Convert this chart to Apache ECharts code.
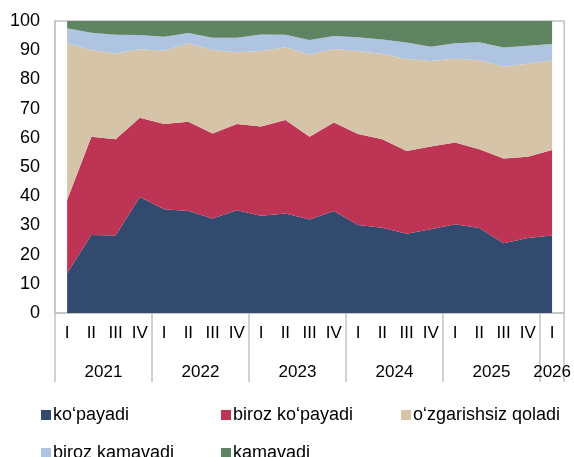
<!DOCTYPE html>
<html lang="uz">
<head>
	<meta charset="UTF-8">
	<title>Kutilmalar</title>
	<style>
		html, body { margin: 0; padding: 0; background: #fff; }
		#main { width: 574px; height: 457px; }
	</style>
</head>
<body>
	<div id="main"></div>
<script type="text/javascript" src="https://cdn.jsdelivr.net/npm/echarts@6/dist/echarts.min.js"></script>
<script type="text/javascript">
        // kvartallar va yillar
        var quarters = ['I','II','III','IV','I','II','III','IV','I','II','III','IV','I','II','III','IV','I','II','III','IV','I'];
        var years = ['2021','2022','2023','2024','2025','2026'];
        var yearCenters = [2, 6, 10, 14, 18, 20.5];
        var yearBounds = [0, 4, 8, 12, 16, 20, 21];

        // ulushlar, %
        var kopayadi = [13.6, 26.7, 26.5, 39.7, 35.5, 34.9, 32.4, 35.2, 33.3, 34.1, 32.0, 34.9, 30.1, 29.2, 27.1, 28.7, 30.4, 29.1, 23.9, 25.7, 26.5];
        var birozKopayadi = [25.1, 33.7, 33.0, 27.2, 29.2, 30.6, 29.1, 29.5, 30.6, 32.0, 28.4, 30.3, 31.2, 30.3, 28.4, 28.3, 28.0, 27.0, 29.0, 27.8, 29.3];
        var ozgarishsiz = [53.7, 29.7, 29.4, 23.4, 25.1, 26.9, 28.6, 24.6, 25.8, 24.9, 28.0, 25.2, 28.4, 29.2, 31.5, 29.3, 28.7, 30.5, 31.5, 31.9, 30.8];
        var birozKamayadi = [5.1, 5.9, 6.4, 4.9, 4.8, 3.5, 4.2, 5.0, 5.7, 4.3, 5.1, 4.5, 4.7, 5.0, 5.6, 4.9, 5.3, 6.1, 6.5, 6.1, 5.5];
        var kamayadi = [2.5, 4.0, 4.7, 4.8, 5.4, 4.1, 5.7, 5.7, 4.6, 4.7, 6.5, 5.1, 5.6, 6.3, 7.4, 8.8, 7.6, 7.3, 9.1, 8.5, 7.9];

        var names = ['ko‘payadi', 'biroz ko‘payadi', 'o‘zgarishsiz qoladi', 'biroz kamavadi', 'kamavadi'];
        var colors = ['#314A6E', '#BE3455', '#D5C4A8', '#AFC4E0', '#5F8462'];
        var values = [kopayadi, birozKopayadi, ozgarishsiz, birozKamayadi, kamayadi];

        var font = 'Liberation Sans, Arial, sans-serif';
        var gray = '#c4c4c4';

        var myChart = echarts.init(document.getElementById('main'));

        var series = [];
        for (var i = 0; i < names.length; i++) {
            series.push({
                name: names[i],
                type: 'line',
                stack: 'jami',
                symbol: 'none',
                lineStyle: { width: 0 },
                areaStyle: { color: colors[i], opacity: 1 },
                itemStyle: { color: colors[i] },
                data: values[i]
            });
        }

        // legenda joylari
        var legendPos = [[41, 406], [221, 406], [401, 406], [41, 444], [221, 444]];
        var legends = [];
        for (var j = 0; j < names.length; j++) {
            legends.push({
                left: legendPos[j][0],
                top: legendPos[j][1],
                padding: 0,
                data: [names[j]],
                icon: 'rect',
                itemWidth: 10,
                itemHeight: 10,
                textStyle: { fontFamily: font, fontSize: 18, color: '#000', padding: [0, 0, 0, -3] }
            });
        }

        var option = {
            animation: false,
            legend: legends,
            grid: {
                left: 55, right: 9, top: 21, bottom: 144,
                show: true, borderColor: gray, borderWidth: 1.5
            },
            xAxis: [{
                type: 'category',
                data: quarters,
                boundaryGap: true,
                axisLine: { lineStyle: { color: gray, width: 1.5 } },
                axisTick: { interval: 0, length: 34, lineStyle: { color: gray, width: 1.5 } },
                axisLabel: { interval: 0, margin: 12, color: '#000', fontFamily: font, fontSize: 17 }
            }, {
                type: 'value',
                min: 0,
                max: 21,
                position: 'bottom',
                axisLine: { show: false },
                splitLine: { show: false },
                axisTick: { show: true, customValues: yearBounds, length: 69, lineStyle: { color: gray, width: 1.5 } },
                axisLabel: {
                    customValues: yearCenters,
                    margin: 51,
                    color: '#000', fontFamily: font, fontSize: 17,
                    formatter: function (v) { return years[yearCenters.indexOf(v)]; }
                }
            }],
            yAxis: {
                type: 'value',
                min: 0,
                max: 100,
                interval: 10,
                axisLine: { show: true, lineStyle: { color: gray, width: 1.5 } },
                axisTick: { show: false },
                splitLine: { show: false },
                axisLabel: { margin: 15, color: '#000', fontFamily: font, fontSize: 18 }
            },
            series: series
        };

        myChart.setOption(option);
</script>
</body>
</html>
